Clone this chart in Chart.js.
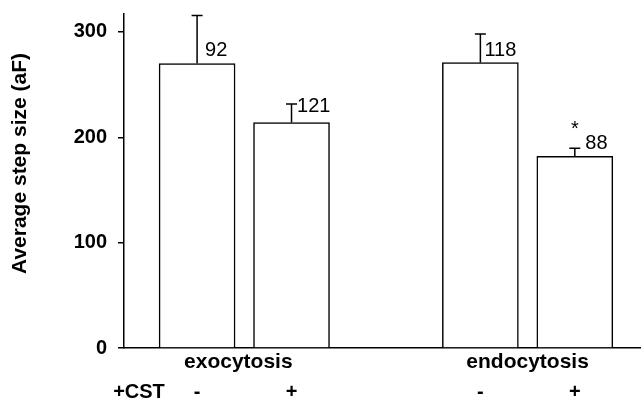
<!DOCTYPE html>
<html>
<head>
<meta charset="utf-8">
<script src="https://cdn.jsdelivr.net/npm/chart.js@4"></script>
<style>
  html, body { margin: 0; padding: 0; background: #fff; }
  canvas { display: block; }
</style>
</head>
<body>
<canvas id="stepChart" width="641" height="399"></canvas>
<script>
// ── Data ──────────
const conditions = ['exocytosis', 'endocytosis'];
const cstLabels = ['-', '+', '-', '+'];
const barSlots = [0, 1, 3, 4];
const means = [270, 214, 271, 182];
const sems = [45.5, 17.5, 27, 7.5];
const counts = ['92', '121', '118', '88'];
const significant = [false, false, false, true];

// label placement next to the error bar caps (px)
const countOffsets = [[8, 40], [5.5, 8], [4, 22], [10.5, 1]];

const FONT = '"Liberation Sans", Arial, sans-serif';

// ── Error bars + annotations ──────────
const annotations = {
    id: 'annotations',
    afterDatasetsDraw(chart) {
        const { ctx, scales: { x, y } } = chart;
        ctx.save();
        ctx.strokeStyle = '#000';
        ctx.lineWidth = 1.5;
        ctx.fillStyle = '#000';
        barSlots.forEach((slot, i) => {
            const px = x.getPixelForValue(slot);
            const base = y.getPixelForValue(means[i]);
            const top = y.getPixelForValue(means[i] + sems[i]);
            ctx.beginPath();
            ctx.moveTo(px, base);
            ctx.lineTo(px, top);
            ctx.moveTo(px - 5.5, top);
            ctx.lineTo(px + 5.5, top);
            ctx.stroke();

            ctx.font = '20px ' + FONT;
            ctx.textAlign = 'left';
            ctx.textBaseline = 'alphabetic';
            ctx.fillText(counts[i], px + countOffsets[i][0], top + countOffsets[i][1]);

            if (significant[i]) {
                ctx.textAlign = 'center';
                ctx.fillText('*', px, top - 13);
            }
        });

        // category + treatment rows
        ctx.font = 'bold 21px ' + FONT;
        ctx.textAlign = 'center';
        conditions.forEach((name, g) => {
            const cx = (x.getPixelForValue(barSlots[g * 2]) + x.getPixelForValue(barSlots[g * 2 + 1])) / 2;
            ctx.fillText(name, cx - (g === 0 ? 6 : 0), 368);
        });
        ctx.font = 'bold 20px ' + FONT;
        cstLabels.forEach((lab, i) => {
            ctx.fillText(lab, x.getPixelForValue(barSlots[i]), 398);
        });
        ctx.fillText('+CST', 139, 398);

        // y title
        ctx.translate(26, 163.5);
        ctx.rotate(-Math.PI / 2);
        ctx.font = 'bold 21px ' + FONT;
        ctx.fillText('Average step size (aF)', 0, 0);
        ctx.restore();
    }
};

new Chart(document.getElementById('stepChart'), {
    type: 'bar',
    data: {
        datasets: [{
            data: barSlots.map((s, i) => ({ x: s, y: means[i] })),
            backgroundColor: '#fff',
            borderColor: '#000',
            borderWidth: 1.5,
            borderSkipped: 'start',
            barThickness: 76
        }]
    },
    options: {
        responsive: false,
        animation: false,
        devicePixelRatio: 1,
        layout: { padding: { top: 14, right: 0, left: 0, bottom: 0 } },
        plugins: { legend: { display: false }, tooltip: { enabled: false } },
        scales: {
            x: {
                type: 'linear',
                offset: false,
                min: -0.774,
                max: 4.701,
                ticks: { display: false },
                grid: { display: false },
                border: { color: '#000', width: 1.5 },
                afterFit: s => { s.height = 51; s.paddingLeft = 0; s.paddingRight = 0; }
            },
            y: {
                min: 0,
                max: 317,
                ticks: {
                    stepSize: 100,
                    includeBounds: false,
                    color: '#000',
                    padding: 11,
                    font: { family: FONT, size: 20, weight: 'bold' }
                },
                grid: { drawOnChartArea: false, tickLength: 6, color: '#000', lineWidth: 1.5 },
                border: { color: '#000', width: 1.5 },
                afterFit: s => { s.width = 124; s.paddingTop = 0; s.paddingBottom = 0; }
            }
        }
    },
    plugins: [annotations]
});
</script>
</body>
</html>
